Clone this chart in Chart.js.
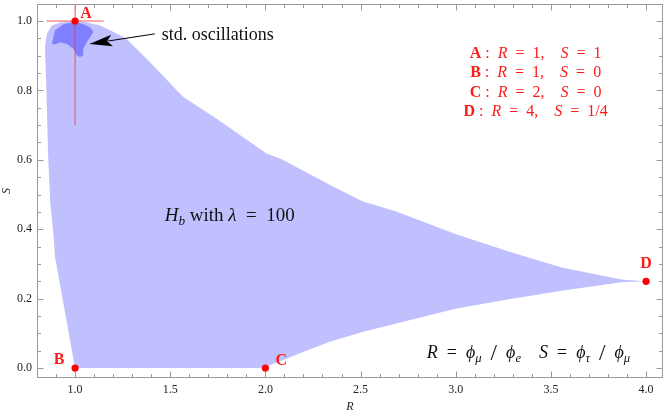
<!DOCTYPE html>
<html>
<head>
<meta charset="utf-8">
<script src="https://cdn.jsdelivr.net/npm/chart.js@4.4.0/dist/chart.umd.min.js"></script>
<style>
  html, body { margin: 0; padding: 0; background: #fff; }
  #wrap { width: 667px; height: 414px; }
</style>
</head>
<body>
<div id="wrap"><canvas id="chart"></canvas></div>
<script>
// axis ticks
const X_TICKS = [1.0, 1.5, 2.0, 2.5, 3.0, 3.5, 4.0];
const Y_TICKS = [0.0, 0.2, 0.4, 0.6, 0.8, 1.0];

// H_b region (lambda = 100), boundary traced clockwise from the top
const HB_R = [1.000, 1.065, 1.131, 1.190, 1.271, 1.393, 1.567, 1.742, 2.004, 2.091, 2.335, 2.509, 2.684, 2.998, 3.295, 3.557, 3.871, 3.993,
              3.871, 3.557, 3.295, 2.998, 2.509, 2.335, 2.178, 2.004, 2.000, 1.000,
              0.895, 0.886, 0.869, 0.858, 0.851, 0.845, 0.843, 0.852, 0.878, 0.921, 1.000];
const HB_S = [1.001, 0.996, 0.987, 0.972, 0.948, 0.882, 0.782, 0.719, 0.619, 0.600, 0.529, 0.481, 0.452, 0.386, 0.333, 0.290, 0.255, 0.250,
              0.247, 0.223, 0.200, 0.171, 0.104, 0.075, 0.042, 0.004, 0.000, 0.000,
              0.319, 0.386, 0.481, 0.620, 0.767, 0.880, 0.930, 0.963, 0.987, 0.996, 1.001];

// standard oscillations region
const STD_R = [0.878, 0.895, 0.939, 1.000, 1.043, 1.079, 1.096, 1.061, 1.043, 1.043, 1.026, 1.009, 0.991, 0.957, 0.921, 0.895, 0.878];
const STD_S = [0.934, 0.973, 0.991, 0.998, 0.991, 0.982, 0.968, 0.939, 0.920, 0.901, 0.896, 0.901, 0.920, 0.934, 0.939, 0.932, 0.934];

// benchmark points
const PT_LABEL = ['A', 'B', 'C', 'D'];
const PT_R = [1, 1, 2, 4];
const PT_S = [1, 0, 0, 0.25];
const PT_S_TEXT = ['1', '0', '0', '1/4'];

// spread around A
const ERR_H_R = [0.85, 1.15];
const ERR_V_S = [0.70, 1.06];

const SERIF = '"Liberation Serif", "DejaVu Serif", serif';
const RED = '#ff1a1a';

const xy = (xs, ys) => xs.map((x, i) => ({ x, y: ys[i] }));

// style words: it, bf, sub, big
function fontFor(st, size) {
  const w = st.split(' ');
  const it = w.includes('it') ? 'italic ' : '';
  const bd = w.includes('bf') ? 'bold ' : '';
  let sz = size;
  if (w.includes('sub')) sz = size * 0.7;
  if (w.includes('big')) sz = size * 1.3;
  return it + bd + sz + 'px ' + SERIF;
}

// draw a run of styled pieces; y is the middle of capitals
function drawRich(ctx, segs, x, y, size, color, align) {
  ctx.save();
  ctx.fillStyle = color;
  ctx.textBaseline = 'alphabetic';
  ctx.textAlign = 'left';
  const widths = segs.map(([t, st]) => {
    ctx.font = fontFor(st, size);
    return ctx.measureText(t).width;
  });
  const total = widths.reduce((a, b) => a + b, 0);
  let cx = align === 'center' ? x - total / 2 : align === 'right' ? x - total : x;
  const base = y + size * 0.33;
  segs.forEach(([t, st], i) => {
    ctx.font = fontFor(st, size);
    const w = st.split(' ');
    let dy = 0;
    if (w.includes('sub')) dy = size * 0.22;
    if (w.includes('big')) dy = size * 0.12;
    ctx.fillText(t, cx, base + dy);
    cx += widths[i];
  });
  ctx.restore();
}

const framePlugin = {
  id: 'frame',
  afterDraw(chart) {
    const { ctx, chartArea: a, scales: { x, y } } = chart;
    const L = Math.round(a.left) + 0.5, R = Math.round(a.right) - 0.5;
    const T = Math.round(a.top) + 0.5, B = Math.round(a.bottom) - 0.5;
    ctx.save();
    ctx.strokeStyle = '#9a9a9a';
    ctx.lineWidth = 1;
    ctx.strokeRect(L, T, R - L, B - T);
    ctx.beginPath();
    for (let k = 8; k <= 40; k++) {
      const v = k / 10;
      const px = Math.round(x.getPixelForValue(v)) + 0.5;
      const len = X_TICKS.some(t => Math.abs(t - v) < 1e-6) ? 6 : 3.5;
      ctx.moveTo(px, B); ctx.lineTo(px, B - len);
      ctx.moveTo(px, T); ctx.lineTo(px, T + len);
    }
    for (let k = 0; k <= 20; k++) {
      const v = k / 20;
      const py = Math.round(y.getPixelForValue(v)) + 0.5;
      const len = Y_TICKS.some(t => Math.abs(t - v) < 1e-6) ? 6 : 3.5;
      ctx.moveTo(L, py); ctx.lineTo(L + len, py);
      ctx.moveTo(R, py); ctx.lineTo(R - len, py);
    }
    ctx.stroke();
    ctx.restore();
  }
};

const notesPlugin = {
  id: 'notes',
  afterDatasetsDraw(chart) {
    const { ctx, scales: { x, y } } = chart;
    const px = v => x.getPixelForValue(v);
    const py = v => y.getPixelForValue(v);

    // point labels
    const offs = [[11, -8], [-16, -9], [16, -8], [0, -19]];
    PT_LABEL.forEach((lab, i) => {
      drawRich(ctx, [[lab, 'bf']], px(PT_R[i]) + offs[i][0], py(PT_S[i]) + offs[i][1], 16, RED, 'center');
    });

    // key in the upper right
    const keyX = px(3.42);
    PT_LABEL.forEach((lab, i) => {
      const segs = [[lab, 'bf'], [' :  ', ''], ['R', 'it'], ['  =  ' + PT_R[i] + ',    ', ''], ['S', 'it'], ['  =  ' + PT_S_TEXT[i], '']];
      drawRich(ctx, segs, keyX, py(0.910) + i * 19.5, 16, RED, 'center');
    });

    // region label
    drawRich(ctx, [['H', 'it'], ['b', 'it sub'], [' with ', ''], ['λ', 'it'], ['  =  100', '']],
      px(1.471), py(0.441), 19, '#111', 'left');

    // definitions
    drawRich(ctx, [['R', 'it'], ['  =  ', ''], ['ϕ', 'it'], ['μ', 'it sub'], ['  ', ''], ['/', 'big'], ['  ', ''], ['ϕ', 'it'], ['e', 'it sub'],
      ['    ', ''], ['S', 'it'], ['  =  ', ''], ['ϕ', 'it'], ['τ', 'it sub'], ['  ', ''], ['/', 'big'], ['  ', ''], ['ϕ', 'it'], ['μ', 'it sub']],
      px(2.848), py(0.046), 18, '#111', 'left');

    // arrow to the std. oscillations region
    drawRich(ctx, [['std. oscillations', '']], px(1.455), py(0.963), 18, '#111', 'left');
    const tx = px(1.419), ty = py(0.963), hx = px(1.075), hy = py(0.934);
    const ang = Math.atan2(hy - ty, hx - tx);
    const hl = 23, hw = 5.8;
    const cos = Math.cos(ang), sin = Math.sin(ang);
    const bx = hx - hl * cos, by = hy - hl * sin;
    ctx.save();
    ctx.strokeStyle = '#000';
    ctx.lineWidth = 1;
    ctx.beginPath();
    ctx.moveTo(tx, ty);
    ctx.lineTo(bx + 4 * cos, by + 4 * sin);
    ctx.stroke();
    ctx.fillStyle = '#000';
    ctx.beginPath();
    ctx.moveTo(hx, hy);
    ctx.lineTo(bx - hw * sin, by + hw * cos);
    ctx.lineTo(bx + 5 * cos, by + 5 * sin);
    ctx.lineTo(bx + hw * sin, by - hw * cos);
    ctx.closePath();
    ctx.fill();
    ctx.restore();
  }
};

const tickFont = { family: SERIF, size: 12 };

new Chart(document.getElementById('chart'), {
  type: 'line',
  data: {
    datasets: [
      {
        label: 'points',
        data: xy(PT_R, PT_S),
        showLine: false,
        pointRadius: 3.6,
        pointBackgroundColor: '#ff0000',
        pointBorderWidth: 0,
        clip: false
      },
      {
        label: 'spread R',
        data: xy(ERR_H_R, [1, 1]),
        borderColor: 'rgba(240,60,60,0.85)',
        borderWidth: 1,
        pointRadius: 0
      },
      {
        label: 'spread S',
        data: xy([1, 1], ERR_V_S),
        borderColor: 'rgba(240,60,60,0.85)',
        borderWidth: 1,
        pointRadius: 0
      },
      {
        label: 'std. oscillations',
        data: xy(STD_R, STD_S),
        borderColor: 'rgba(0,0,0,0)',
        borderWidth: 0,
        pointRadius: 0,
        fill: 'shape',
        backgroundColor: '#7f7fff'
      },
      {
        label: 'H_b',
        data: xy(HB_R, HB_S),
        borderColor: 'rgba(0,0,0,0)',
        borderWidth: 0,
        pointRadius: 0,
        fill: 'shape',
        backgroundColor: '#c0c0ff'
      }
    ]
  },
  options: {
    responsive: true,
    maintainAspectRatio: false,
    animation: false,
    layout: { padding: { top: 1, right: 2, left: 0, bottom: 0 } },
    plugins: { legend: { display: false }, tooltip: { enabled: false } },
    elements: { line: { tension: 0 } },
    scales: {
      x: {
        type: 'linear',
        min: 0.8,
        max: 4.089,
        afterBuildTicks: s => { s.ticks = X_TICKS.map(v => ({ value: v })); },
        afterFit: s => { s.height = 36; s.paddingLeft = 0; s.paddingRight = 0; },
        grid: { display: false, drawTicks: false },
        border: { display: false },
        ticks: { padding: 5, color: '#222', font: tickFont, maxRotation: 0, autoSkip: false, callback: v => v.toFixed(1) },
        title: { display: true, text: 'R', color: '#222', font: { family: SERIF, size: 12, style: 'italic' }, padding: 0 }
      },
      y: {
        type: 'linear',
        min: -0.0286,
        max: 1.049,
        afterBuildTicks: s => { s.ticks = Y_TICKS.map(v => ({ value: v })); },
        afterFit: s => { s.width = 37; s.paddingTop = 0; s.paddingBottom = 0; },
        grid: { display: false, drawTicks: false },
        border: { display: false },
        ticks: { padding: 5, color: '#222', font: tickFont, autoSkip: false, callback: v => v.toFixed(1) },
        title: { display: true, text: 'S', color: '#222', font: { family: SERIF, size: 12, style: 'italic' }, padding: 0 }
      }
    }
  },
  plugins: [framePlugin, notesPlugin]
});
</script>
</body>
</html>
